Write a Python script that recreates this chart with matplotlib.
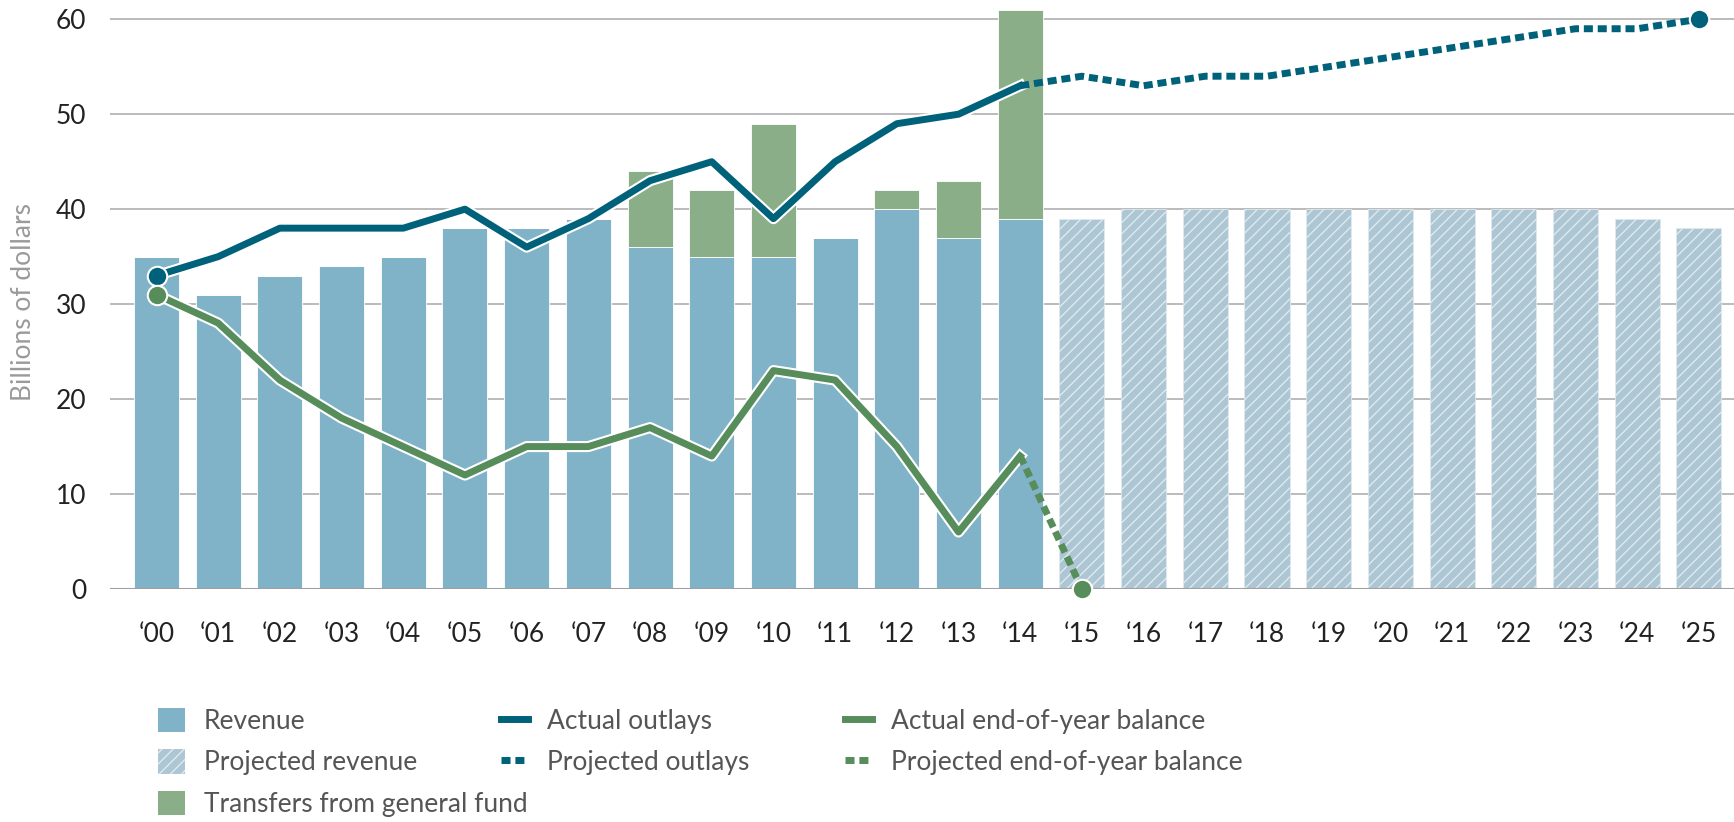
import numpy as np
import matplotlib
matplotlib.use("Agg")
import matplotlib.pyplot as plt
import matplotlib.patheffects as pe
from matplotlib.patches import Patch
from matplotlib.lines import Line2D

plt.rcParams['font.family'] = ['Lato', 'DejaVu Sans']
plt.rcParams['hatch.linewidth'] = 1.0

# data
years = ['\u201800', '\u201801', '\u201802', '\u201803', '\u201804', '\u201805', '\u201806', '\u201807',
         '\u201808', '\u201809', '\u201810', '\u201811', '\u201812', '\u201813', '\u201814', '\u201815',
         '\u201816', '\u201817', '\u201818', '\u201819', '\u201820', '\u201821', '\u201822', '\u201823',
         '\u201824', '\u201825']
revenue = [35, 31, 33, 34, 35, 38, 38, 39, 36, 35, 35, 37, 40, 37, 39]
transfers = [0, 0, 0, 0, 0, 0, 0, 0, 8, 7, 14, 0, 2, 6, 22]
proj_revenue = [39, 40, 40, 40, 40, 40, 40, 40, 40, 39, 38]
outlays = [33, 35, 38, 38, 38, 40, 36, 39, 43, 45, 39, 45, 49, 50, 53]
proj_outlays = [53, 54, 53, 54, 54, 55, 56, 57, 58, 59, 59, 60]
balance = [31, 28, 22, 18, 15, 12, 15, 15, 17, 14, 23, 22, 15, 6, 14]
proj_balance = [14, 0]

c_rev = '#80b2c8'
c_proj = '#adc6d3'
c_trans = '#8aaf88'
c_out = '#00627a'
c_bal = '#578c5b'
dots = (0, (1.3, 0.7))

fig = plt.figure(figsize=(17.34, 8.22), dpi=100)
ax = fig.add_axes([110 / 1734, 1 - 589 / 822, 1 - 110 / 1734, (589 - 5) / 822])

x = np.arange(len(years))
xa = x[:len(revenue)]
xp = x[len(revenue):]
w = 0.73

ax.bar(xa, revenue, w, color=c_rev, edgecolor='white', linewidth=0.6, zorder=2)
ax.bar(xa, transfers, w, bottom=revenue, color=c_trans, edgecolor='white', linewidth=0.6, zorder=2)
ax.bar(xp, proj_revenue, w, color=c_proj, edgecolor='#dfe9ee', linewidth=0.6, hatch='///', zorder=2)

outline = [pe.Stroke(linewidth=8, foreground='white'), pe.Normal()]
ax.plot(xa, outlays, color=c_out, lw=5, path_effects=outline, zorder=4)
ax.plot(x[len(outlays) - 1:], proj_outlays, color=c_out, lw=5, ls=dots, dash_capstyle='butt', zorder=4)
ax.plot(xa, balance, color=c_bal, lw=5, path_effects=outline, zorder=4)
ax.plot(x[len(balance) - 1:len(balance) + 1], proj_balance, color=c_bal, lw=5, ls=dots,
        dash_capstyle='butt', zorder=4)

mk = dict(marker='o', ms=14, mec='white', mew=1.5, ls='none', zorder=5, clip_on=False)
ax.plot([0], [outlays[0]], color=c_out, **mk)
ax.plot([0], [balance[0]], color=c_bal, **mk)
ax.plot([x[-1]], [proj_outlays[-1]], color=c_out, **mk)
ax.plot([len(balance)], [proj_balance[-1]], color=c_bal, **mk)

ax.set_xlim(-0.754, 25.57)
ax.set_ylim(0, 61.5)
ax.set_yticks([0, 10, 20, 30, 40, 50, 60])
ax.set_xticks(x)
ax.set_xticklabels(years)
ax.tick_params(axis='both', length=0, labelsize=19, colors='#222222')
ax.tick_params(axis='y', pad=17)
ax.tick_params(axis='x', pad=24)
for v in [10, 20, 30, 40, 50, 60]:
    ax.axhline(v, color='#b5b5b5', lw=1.3, zorder=1)
ax.axhline(0, color='#a0a0a0', lw=1.5, zorder=3)
for s in ax.spines.values():
    s.set_visible(False)

fig.text(24 / 1734, 1 - 302 / 822, 'Billions of dollars', rotation=90, ha='center', va='center',
         fontsize=19, color='#9a9a9a')

# legend: three columns placed separately
cols = [
    ([Patch(facecolor=c_rev),
      Patch(facecolor=c_proj, edgecolor='#dfe9ee', hatch='///', linewidth=0),
      Patch(facecolor=c_trans)],
     ['Revenue', 'Projected revenue', 'Transfers from general fund'], 158),
    ([Line2D([], [], color=c_out, lw=5),
      Line2D([], [], color=c_out, lw=5, ls=dots)],
     ['Actual outlays', 'Projected outlays'], 501),
    ([Line2D([], [], color=c_bal, lw=5),
      Line2D([], [], color=c_bal, lw=5, ls=dots)],
     ['Actual end-of-year balance', 'Projected end-of-year balance'], 845),
]
for hs, ls, x0 in cols:
    leg = fig.legend(hs, ls, loc='upper left', bbox_to_anchor=(x0 / 1734, 1 - 708 / 822),
                     frameon=False, fontsize=19, handlelength=1.03, handleheight=1.03,
                     handletextpad=0.7, labelspacing=0.58, borderpad=0, borderaxespad=0)
    for t in leg.get_texts():
        t.set_color('#555555')

fig.savefig('out.png', dpi=100)
